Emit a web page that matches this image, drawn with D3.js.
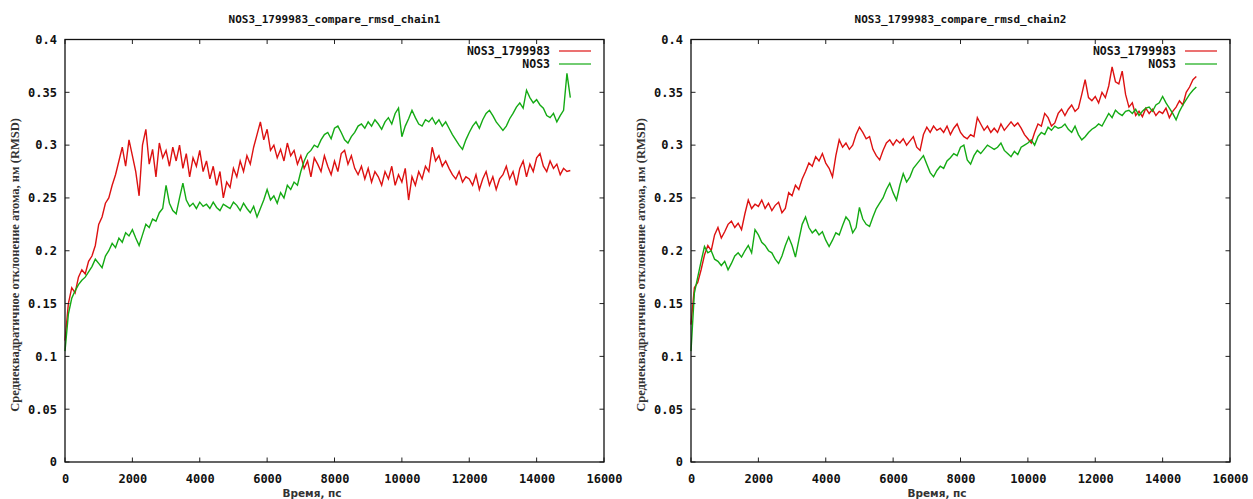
<!DOCTYPE html>
<html>
<head>
<meta charset="utf-8">
<script src="https://cdn.jsdelivr.net/npm/d3@7"></script>
<style>
  body { margin: 0; background: #fff; }
  svg { display: block; }
  .tick-label { font-family: "DejaVu Sans Mono", monospace; font-weight: bold; font-size: 12px; fill: #111; }
  .title { font-family: "DejaVu Sans Mono", monospace; font-weight: bold; font-size: 11px; fill: #111; }
  .legend { font-family: "DejaVu Sans Mono", monospace; font-weight: bold; font-size: 11.5px; fill: #111; }
  .ylabel { font-family: "Liberation Serif", serif; font-weight: bold; font-size: 12.5px; fill: #333; }
  .xlabel { font-family: "DejaVu Sans", sans-serif; font-weight: bold; font-size: 10.5px; fill: #333; }
</style>
</head>
<body>
<svg id="chart" width="1253" height="499"></svg>
<script>
// time step between samples, ps
const timeStep = 100;

const seriesNames = ["NOS3_1799983", "NOS3"];
const xTicks = [0, 2000, 4000, 6000, 8000, 10000, 12000, 14000, 16000];
const yTicks = [0, 0.05, 0.1, 0.15, 0.2, 0.25, 0.3, 0.35, 0.4];

// chain 1
const chain1Mut = [
  0.115, 0.150, 0.165, 0.160, 0.175, 0.182, 0.178, 0.190, 0.195, 0.205,
  0.225, 0.232, 0.245, 0.250, 0.262, 0.272, 0.285, 0.298, 0.280, 0.305,
  0.290, 0.275, 0.252, 0.300, 0.315, 0.282, 0.296, 0.270, 0.302, 0.288,
  0.295, 0.280, 0.298, 0.285, 0.300, 0.278, 0.292, 0.270, 0.288, 0.280,
  0.295, 0.275, 0.285, 0.268, 0.280, 0.262, 0.275, 0.250, 0.265, 0.260,
  0.278, 0.270, 0.285, 0.275, 0.290, 0.282, 0.298, 0.310, 0.322, 0.305,
  0.315, 0.295, 0.300, 0.288, 0.296, 0.285, 0.302, 0.290, 0.295, 0.282,
  0.290, 0.278, 0.285, 0.270, 0.288, 0.282, 0.275, 0.290, 0.280, 0.272,
  0.285, 0.275, 0.292, 0.295, 0.282, 0.290, 0.278, 0.272, 0.280, 0.268,
  0.278, 0.265, 0.275, 0.270, 0.262, 0.275, 0.268, 0.280, 0.262, 0.272,
  0.265, 0.278, 0.248, 0.270, 0.262, 0.275, 0.268, 0.280, 0.275, 0.298,
  0.285, 0.290, 0.280, 0.285, 0.278, 0.272, 0.268, 0.275, 0.265, 0.270,
  0.268, 0.262, 0.272, 0.258, 0.268, 0.275, 0.262, 0.270, 0.258, 0.268,
  0.272, 0.280, 0.268, 0.275, 0.262, 0.278, 0.285, 0.270, 0.282, 0.275,
  0.288, 0.292, 0.280, 0.275, 0.285, 0.278, 0.282, 0.272, 0.278, 0.275,
  0.276
];
const chain1Wt = [
  0.105, 0.140, 0.155, 0.162, 0.168, 0.172, 0.175, 0.180, 0.185, 0.192,
  0.188, 0.184, 0.195, 0.200, 0.207, 0.203, 0.212, 0.208, 0.217, 0.214,
  0.220, 0.212, 0.205, 0.215, 0.225, 0.222, 0.230, 0.228, 0.236, 0.240,
  0.262, 0.245, 0.238, 0.235, 0.250, 0.264, 0.248, 0.242, 0.245, 0.240,
  0.246, 0.242, 0.244, 0.240, 0.246, 0.241, 0.238, 0.244, 0.242, 0.240,
  0.246, 0.243, 0.238, 0.245, 0.240, 0.236, 0.242, 0.232, 0.240, 0.248,
  0.258, 0.248, 0.252, 0.245, 0.255, 0.250, 0.262, 0.258, 0.265, 0.262,
  0.275, 0.285, 0.292, 0.295, 0.300, 0.298, 0.305, 0.310, 0.312, 0.306,
  0.316, 0.318, 0.312, 0.305, 0.302, 0.308, 0.312, 0.318, 0.320, 0.316,
  0.322, 0.318, 0.324, 0.320, 0.315, 0.322, 0.326, 0.320, 0.330, 0.335,
  0.308, 0.318, 0.325, 0.333, 0.326, 0.320, 0.318, 0.324, 0.322, 0.326,
  0.320, 0.324, 0.318, 0.322, 0.316, 0.310, 0.305, 0.300, 0.296, 0.305,
  0.312, 0.318, 0.322, 0.316, 0.324, 0.330, 0.333, 0.328, 0.322, 0.318,
  0.314, 0.318, 0.325, 0.330, 0.336, 0.340, 0.335, 0.352, 0.345, 0.340,
  0.343, 0.338, 0.335, 0.328, 0.326, 0.330, 0.322, 0.328, 0.333, 0.368,
  0.345
];

// chain 2
const chain2Mut = [
  0.130, 0.165, 0.170, 0.182, 0.196, 0.205, 0.200, 0.215, 0.222, 0.212,
  0.218, 0.225, 0.228, 0.222, 0.226, 0.220, 0.235, 0.248, 0.240, 0.244,
  0.242, 0.248, 0.240, 0.245, 0.238, 0.243, 0.246, 0.236, 0.240, 0.255,
  0.252, 0.262, 0.258, 0.268, 0.275, 0.283, 0.280, 0.289, 0.285, 0.292,
  0.283, 0.278, 0.270, 0.290, 0.305, 0.298, 0.302, 0.296, 0.300, 0.310,
  0.317, 0.312, 0.306, 0.308, 0.296, 0.290, 0.286, 0.295, 0.302, 0.305,
  0.300, 0.305, 0.302, 0.306, 0.300, 0.304, 0.308, 0.298, 0.295, 0.310,
  0.317, 0.312, 0.318, 0.314, 0.316, 0.312, 0.318, 0.310, 0.316, 0.320,
  0.312, 0.308, 0.306, 0.310, 0.308, 0.326, 0.320, 0.314, 0.318, 0.312,
  0.316, 0.312, 0.320, 0.314, 0.318, 0.322, 0.318, 0.321, 0.316, 0.310,
  0.306, 0.302, 0.312, 0.320, 0.318, 0.330, 0.326, 0.318, 0.321, 0.330,
  0.334, 0.328, 0.334, 0.338, 0.332, 0.335, 0.348, 0.362, 0.345, 0.342,
  0.346, 0.340, 0.350, 0.345, 0.356, 0.374, 0.360, 0.358, 0.370, 0.348,
  0.336, 0.340, 0.328, 0.332, 0.327, 0.335, 0.330, 0.334, 0.328, 0.332,
  0.330, 0.335, 0.326, 0.332, 0.336, 0.342, 0.338, 0.350, 0.355, 0.362,
  0.365
];
const chain2Wt = [
  0.105, 0.160, 0.175, 0.190, 0.204, 0.198, 0.200, 0.192, 0.190, 0.186,
  0.190, 0.182, 0.188, 0.195, 0.198, 0.194, 0.200, 0.205, 0.198, 0.220,
  0.215, 0.208, 0.205, 0.200, 0.198, 0.192, 0.188, 0.195, 0.205, 0.213,
  0.205, 0.194, 0.210, 0.225, 0.232, 0.222, 0.217, 0.220, 0.215, 0.218,
  0.210, 0.204, 0.210, 0.217, 0.215, 0.224, 0.232, 0.228, 0.217, 0.222,
  0.241, 0.230, 0.225, 0.223, 0.232, 0.240, 0.245, 0.250, 0.258, 0.264,
  0.255, 0.248, 0.262, 0.273, 0.265, 0.270, 0.278, 0.282, 0.286, 0.290,
  0.282, 0.274, 0.270, 0.276, 0.280, 0.278, 0.285, 0.288, 0.292, 0.290,
  0.298, 0.300, 0.286, 0.282, 0.290, 0.295, 0.292, 0.296, 0.300, 0.298,
  0.296, 0.298, 0.302, 0.295, 0.292, 0.289, 0.294, 0.291, 0.298, 0.300,
  0.302, 0.305, 0.300, 0.308, 0.312, 0.310, 0.317, 0.314, 0.318, 0.316,
  0.317, 0.320, 0.315, 0.312, 0.318, 0.310, 0.305, 0.308, 0.312, 0.315,
  0.317, 0.320, 0.318, 0.324, 0.330, 0.326, 0.333, 0.330, 0.328, 0.332,
  0.333, 0.330, 0.334, 0.328, 0.332, 0.335, 0.336, 0.332, 0.338, 0.340,
  0.346, 0.340, 0.335, 0.330, 0.324, 0.332, 0.338, 0.343, 0.348, 0.352,
  0.355
];

const colors = ["#dd1111", "#14aa14"];

const svg = d3.select("#chart");

drawPanel({
  left: 65, title: "NOS3_1799983_compare_rmsd_chain1",
  series: [chain1Mut, chain1Wt], xLabelX: 312, yLabelX: 19
});
drawPanel({
  left: 691, title: "NOS3_1799983_compare_rmsd_chain2",
  series: [chain2Mut, chain2Wt], xLabelX: 937, yLabelX: 645
});

function drawPanel(p) {
  const top = 39.5, bottom = 462, width = 539;
  const x = d3.scaleLinear().domain([0, 16000]).range([p.left, p.left + width]);
  const y = d3.scaleLinear().domain([0, 0.4]).range([bottom, top]);
  const g = svg.append("g");

  // title
  g.append("text").attr("class", "title")
    .attr("x", p.left + width / 2).attr("y", 23)
    .attr("text-anchor", "middle").text(p.title);

  // data lines (red first, green over it)
  const line = d3.line()
    .x((d, i) => x(i * timeStep))
    .y(d => y(d));
  p.series.forEach((s, k) => {
    g.append("path").datum(s)
      .attr("fill", "none")
      .attr("stroke", colors[k])
      .attr("stroke-width", 1.4)
      .attr("stroke-linejoin", "miter")
      .attr("d", line);
  });

  // axes, gnuplot style: inward ticks mirrored on all sides
  const tick = 4.5;
  const bottomAxis = d3.axisBottom(x).tickValues(xTicks).tickSize(0).tickPadding(12)
    .tickFormat(d3.format("d"));
  g.append("g").attr("transform", `translate(0,${bottom})`).call(bottomAxis)
    .call(a => a.select(".domain").remove())
    .selectAll("text").attr("class", "tick-label").attr("fill", null);
  const leftAxis = d3.axisLeft(y).tickValues(yTicks).tickSize(0).tickPadding(8)
    .tickFormat(d => d === 0 ? "0" : d3.format("")(+d.toFixed(2)));
  g.append("g").attr("transform", `translate(${p.left},0)`).call(leftAxis)
    .call(a => a.select(".domain").remove())
    .selectAll("text").attr("class", "tick-label").attr("fill", null);

  const ticks = g.append("g").attr("stroke", "#222").attr("stroke-width", 1);
  xTicks.forEach(t => {
    ticks.append("line").attr("x1", x(t)).attr("x2", x(t)).attr("y1", bottom).attr("y2", bottom - tick);
    ticks.append("line").attr("x1", x(t)).attr("x2", x(t)).attr("y1", top).attr("y2", top + tick);
  });
  yTicks.forEach(t => {
    ticks.append("line").attr("x1", p.left).attr("x2", p.left + tick).attr("y1", y(t)).attr("y2", y(t));
    ticks.append("line").attr("x1", p.left + width).attr("x2", p.left + width - tick).attr("y1", y(t)).attr("y2", y(t));
  });

  // border
  g.append("rect")
    .attr("x", p.left).attr("y", top)
    .attr("width", width).attr("height", bottom - top)
    .attr("fill", "none").attr("stroke", "#111").attr("stroke-width", 1.3);

  // legend
  const lx = p.left + width - 54;
  seriesNames.forEach((name, k) => {
    const ly = 51 + k * 13;
    g.append("text").attr("class", "legend")
      .attr("x", lx).attr("y", ly + 4)
      .attr("text-anchor", "end").text(name);
    g.append("line")
      .attr("x1", lx + 9).attr("x2", lx + 41)
      .attr("y1", ly).attr("y2", ly)
      .attr("stroke", colors[k]).attr("stroke-width", 1.2);
  });

  // axis titles
  g.append("text").attr("class", "xlabel")
    .attr("x", p.xLabelX).attr("y", 497)
    .attr("text-anchor", "middle").text("Время, пс");
  g.append("text").attr("class", "ylabel")
    .attr("transform", `translate(${p.yLabelX},265) rotate(-90)`)
    .attr("text-anchor", "middle")
    .text("Среднеквадратичное отклонение атома, нм (RMSD)");
}
</script>
</body>
</html>
